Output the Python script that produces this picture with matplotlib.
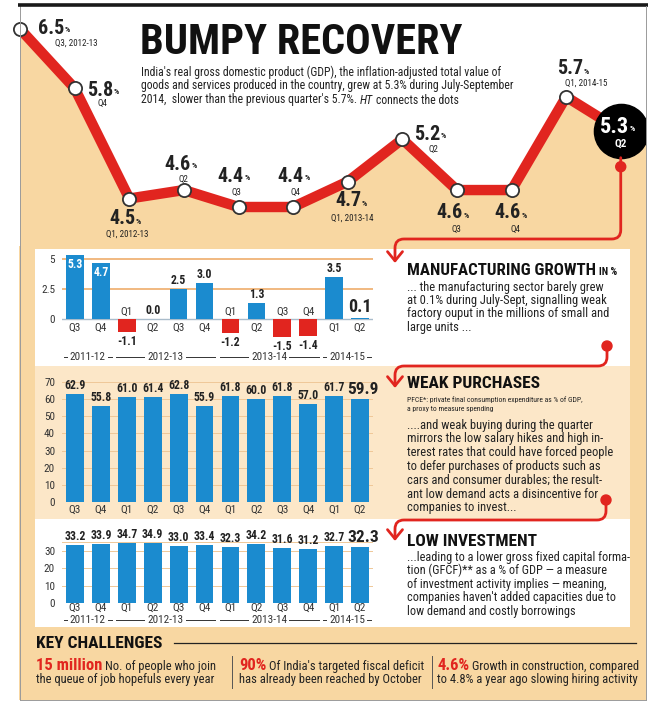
import numpy as np
import matplotlib
matplotlib.use('Agg')
import matplotlib.pyplot as plt
from matplotlib.patches import Rectangle, Circle, FancyArrowPatch
from matplotlib.path import Path
from matplotlib.transforms import blended_transform_factory
from matplotlib import font_manager as fm

# ---------------- data ----------------
gdp_labels = ['Q3, 2012-13', 'Q4', 'Q1, 2012-13', 'Q2', 'Q3', 'Q4',
              'Q1, 2013-14', 'Q2', 'Q3', 'Q4', 'Q1, 2014-15', 'Q2']
gdp_growth = [6.5, 5.8, 4.5, 4.6, 4.4, 4.4, 4.7, 5.2, 4.6, 4.6, 5.7, 5.3]

quarters = ['Q3', 'Q4', 'Q1', 'Q2', 'Q3', 'Q4', 'Q1', 'Q2', 'Q3', 'Q4', 'Q1', 'Q2']
fiscal_years = ['2011-12', '2012-13', '2013-14', '2014-15']
year_first_q = [0, 2, 6, 10]
year_last_q = [1, 5, 9, 11]

manufacturing = [5.3, 4.7, -1.1, 0.0, 2.5, 3.0, -1.2, 1.3, -1.5, -1.4, 3.5, 0.1]
pfce = [62.9, 55.8, 61.0, 61.4, 62.8, 55.9, 61.8, 60.0, 61.8, 57.0, 61.7, 59.9]
gfcf = [33.2, 33.9, 34.7, 34.9, 33.0, 33.4, 32.3, 34.2, 31.6, 31.2, 32.7, 32.3]

manuf_ticks = [0, 2.5, 5]
manuf_tick_labels = ['0', '2.5', '5']
pfce_ticks = [0, 10, 20, 30, 40, 50, 60, 70]
gfcf_ticks = [0, 10, 20, 30]


# ---------------- fonts ----------------
def has_font(name, weight='normal'):
    try:
        fm.findfont(fm.FontProperties(family=name, weight=weight), fallback_to_default=False)
        return True
    except Exception:
        return False


def pick(cands):
    for c in cands:
        if has_font(c):
            return c
    return 'DejaVu Sans'


BODY = pick(['Roboto Condensed', 'Archivo Narrow', 'PT Sans Narrow', 'Fira Sans Condensed',
             'IBM Plex Sans Condensed', 'Encode Sans Condensed', 'Barlow Semi Condensed',
             'Open Sans Condensed', 'Liberation Sans'])
plt.rcParams['font.family'] = [BODY, 'DejaVu Sans']

RED = '#e1251f'
BLUE = '#1b8bcf'
PEACH = '#f8d7a2'
LIGHT = '#fce7c8'
ORANGE = '#eea55e'
GRID = '#efc898'
DARK = '#222222'

W, H = 665, 707
fig = plt.figure(figsize=(W / 100, H / 100), dpi=100)
fig.patch.set_facecolor('white')


def box(l, t, w, h):
    return [l / W, 1 - (t + h) / H, w / W, h / H]


# ---------------- background ----------------
bg = fig.add_axes([0, 0, 1, 1], zorder=0)
bg.set_xlim(0, W)
bg.set_ylim(H, 0)
bg.axis('off')
bg.add_patch(Rectangle((19, 246), 627, 454, fc=PEACH, ec='none'))
bg.add_patch(Rectangle((35, 248), 595, 118, fc='white', ec='none'))
bg.add_patch(Rectangle((35, 366), 595, 153, fc=LIGHT, ec='none'))
bg.add_patch(Rectangle((35, 519), 595, 108, fc='white', ec='none'))

# ---------------- top GDP line chart ----------------
idx = np.arange(len(gdp_growth))
axt = fig.add_axes(box(19, 6, 627, 242), zorder=1)
axt.set_facecolor('none')
x_right = (646 - 19) / 54.7
axt.set_xlim(-0.02, x_right)
axt.set_ylim(6.5 - (248 - 29) / 84.76, 6.5 + (29 - 6) / 84.76)
axt.axis('off')
xs = np.r_[idx, x_right]
ys = np.r_[gdp_growth, gdp_growth[-1]]
axt.fill_between(xs, ys, 0, color=PEACH, lw=0, zorder=1)
axt.plot(idx, gdp_growth, color=RED, lw=7.5, solid_joinstyle='round',
         solid_capstyle='round', zorder=2, clip_on=False)
axt.plot(idx[:-1], gdp_growth[:-1], 'o', ms=9.5, mfc='white', mec='#333333',
         mew=1.3, zorder=3, clip_on=False)
axt.plot(idx[-1], gdp_growth[-1], 'o', ms=39, mfc='black', mec='black', zorder=4)
axt.annotate(f'{gdp_growth[-1]:.1f}', (idx[-1], gdp_growth[-1]), xytext=(8, 4),
             textcoords='offset pixels', ha='right', va='center', color='white',
             fontsize=16, fontweight='bold', zorder=5)
axt.annotate('%', (idx[-1], gdp_growth[-1]), xytext=(9, 2),
             textcoords='offset pixels', ha='left', va='center', color='white',
             fontsize=6, fontweight='bold', zorder=5)
axt.annotate(gdp_labels[-1], (idx[-1], gdp_growth[-1]), xytext=(0, -13),
             textcoords='offset pixels', ha='center', va='center', color='white',
             fontsize=8, fontweight='bold', zorder=5)

# foreground overlay in pixel coords
fg = fig.add_axes([0, 0, 1, 1], zorder=5)
fg.set_xlim(0, W)
fg.set_ylim(H, 0)
fg.axis('off')
fg.set_facecolor('none')
renderer = fig.canvas.get_renderer()

# borders
fg.plot([18, 648], [5, 5], color='#1a1a1a', lw=2.6, solid_capstyle='butt')
fg.plot([20, 20], [6, 700], color='#9a9a9a', lw=0.7, zorder=0)
fg.plot([646, 646], [6, 700], color='#9a9a9a', lw=0.7)
fg.plot([20, 646], [700, 700], color='#9a9a9a', lw=0.7)

# GDP point labels (pixel layout)
num_pos = [(64, 28), (113, 90), (135, 219), (191, 164), (244, 176), (304, 176),
           (361, 201), (440, 134), (463, 213), (521, 213), (583, 69)]
sub_pos = [(76, 43), (102, 103), (127, 234), (183, 179), (236, 192), (295, 192),
           (352, 218), (433, 149), (456, 229), (515, 229), (586, 83)]
for i in range(len(gdp_growth) - 1):
    nx, ny = num_pos[i]
    fg.text(nx, ny, f'{gdp_growth[i]:.1f}', ha='right', va='center', fontsize=14.5,
            fontweight='bold', color=DARK)
    fg.text(nx + 1, ny + 2, '%', ha='left', va='center', fontsize=6,
            fontweight='bold', color=DARK)
    sx, sy = sub_pos[i]
    fg.text(sx, sy, gdp_labels[i], ha='center', va='center', fontsize=6.5, color=DARK)

# title & subtitle
fg.text(140, 43, 'BUMPY RECOVERY', ha='left', va='center', fontsize=30.5,
        fontweight='bold', color='#111111')
sub_lines = ["India's real gross domestic product (GDP), the inflation-adjusted total value of",
             "goods and services produced in the country, grew at 5.3% during July-September"]
for k, line in enumerate(sub_lines):
    fg.text(141, 72 + 14 * k, line, ha='left', va='center', fontsize=8.5, color=DARK)


def inline(x, y, parts, **common):
    for txt, kw, gap in parts:
        t = fg.text(x, y, txt, **{**common, **kw})
        bb = t.get_window_extent(renderer)
        x += bb.width + gap
    return x


inline(141, 100, [("2014,  slower than the previous quarter's 5.7%.", {}, 3),
                  ('HT', {'style': 'italic'}, 3),
                  ('connects the dots', {}, 0)],
       ha='left', va='center', fontsize=8.5, color=DARK)


# ---------------- connectors ----------------
def connector(x0, y0, yh, x1, y1, r=9):
    verts = [(x0, y0), (x0, yh - r), (x0, yh), (x0 - r, yh),
             (x1 + r, yh), (x1, yh), (x1, yh + r), (x1, y1)]
    codes = [Path.MOVETO, Path.LINETO, Path.CURVE3, Path.CURVE3,
             Path.LINETO, Path.CURVE3, Path.CURVE3, Path.LINETO]
    arr = FancyArrowPatch(path=Path(verts, codes),
                          arrowstyle='->,head_length=0.55,head_width=0.45',
                          mutation_scale=12, color=RED, lw=2.0)
    fg.add_patch(arr)


circ_disp = axt.transData.transform((idx[-1], gdp_growth[-1]))
cx, cy = circ_disp[0], H - circ_disp[1]
connector(cx, cy + 27, 239, 395, 263)
fg.add_patch(Circle((cx, cy + 36), 5, color=RED, zorder=6))
connector(607, 346, 366, 395, 388)
fg.add_patch(Circle((607, 346), 5, color=RED, zorder=6))
connector(606, 500, 520, 395, 541)
fg.add_patch(Circle((606, 500), 5, color=RED, zorder=6))


# ---------------- bar chart helpers ----------------
def bar_axes(top, height, ylim):
    ax = fig.add_axes(box(62, top, 311, height), zorder=2)
    ax.set_facecolor('none')
    ax.set_xlim(-0.5, len(quarters) - 0.5)
    ax.set_ylim(*ylim)
    for s in ax.spines.values():
        s.set_visible(False)
    ax.set_xticks([])
    ax.tick_params(axis='y', length=0, pad=5, labelsize=8, labelcolor='#333333')
    return ax


def year_labels(ax, y_px, face):
    tr = blended_transform_factory(ax.transData, fg.transData)
    for name, a, b in zip(fiscal_years, year_first_q, year_last_q):
        fg.plot([a - 0.42, b + 0.42], [y_px, y_px], transform=tr, color='#333333',
                lw=0.7, zorder=2)
        fg.text((a + b) / 2, y_px, name, transform=tr, ha='center', va='center',
                fontsize=8, color='#333333', zorder=3,
                bbox=dict(fc=face, ec='none', pad=1.5))


def q_labels(ax, y_list):
    tr = blended_transform_factory(ax.transData, fg.transData)
    for i, q in enumerate(quarters):
        fg.text(i, y_list[i], q, transform=tr, ha='center', va='center',
                fontsize=8, color='#333333')


# ---------------- manufacturing ----------------
axm = bar_axes(250, 90, (-(340 - 319) / 12, (319 - 250) / 12))
mcolors = [RED if v < 0 else BLUE for v in manufacturing]
axm.bar(idx, manufacturing, width=0.68, color=mcolors, zorder=3)
for g in manuf_ticks[1:]:
    axm.axhline(g, color=ORANGE, lw=1.1, zorder=1)
axm.axhline(0, color='#a9bccb', lw=1.0, zorder=2)
axm.set_yticks(manuf_ticks)
axm.set_yticklabels(manuf_tick_labels)
for i, v in enumerate(manufacturing):
    last = i == len(manufacturing) - 1
    fs = 13 if last else 8.5
    if v >= 4:
        axm.annotate(f'{v:.1f}', (i, v), xytext=(0, -3), textcoords='offset pixels',
                     ha='center', va='top', fontsize=fs, fontweight='bold', color='white')
    elif v >= 0:
        axm.annotate(f'{v:.1f}', (i, v), xytext=(0, 2), textcoords='offset pixels',
                     ha='center', va='bottom', fontsize=fs, fontweight='bold', color=DARK)
    else:
        axm.annotate(f'{v:.1f}', (i, v), xytext=(0, -3), textcoords='offset pixels',
                     ha='center', va='top', fontsize=fs, fontweight='bold', color=DARK)
q_labels(axm, [312 if v < 0 else 328 for v in manufacturing])
year_labels(axm, 357, 'white')

# ---------------- PFCE ----------------
axp = bar_axes(372, 130, (0, (502 - 372) / 1.714))
axp.bar(idx, pfce, width=0.69, color=BLUE, zorder=3)
for g in pfce_ticks[1:]:
    axp.axhline(g, color=GRID, lw=0.7, zorder=1)
axp.set_yticks(pfce_ticks)
for i, v in enumerate(pfce):
    last = i == len(pfce) - 1
    axp.annotate(f'{v:.1f}', (i, v), xytext=(3 if last else 0, 2), textcoords='offset pixels',
                 ha='center', va='bottom', fontsize=12.5 if last else 8.5,
                 fontweight='bold', color=DARK)
axp.annotate('*', (idx[-1] + 0.66, pfce[-1]), xytext=(0, 16), textcoords='offset pixels',
             ha='left', va='center', fontsize=6, color='#666666')
q_labels(axp, [510] * len(quarters))

# ---------------- GFCF ----------------
axi = bar_axes(530, 73, (0, 73 / 1.733))
axi.bar(idx, gfcf, width=0.69, color=BLUE, zorder=3)
for g in gfcf_ticks[1:] + [35]:
    axi.axhline(g, color=GRID, lw=0.7, zorder=1)
axi.set_yticks(gfcf_ticks)
for i, v in enumerate(gfcf):
    last = i == len(gfcf) - 1
    axi.annotate(f'{v:.1f}', (i, v), xytext=(3 if last else 0, 2), textcoords='offset pixels',
                 ha='center', va='bottom', fontsize=12.5 if last else 8.5,
                 fontweight='bold', color=DARK)
axi.annotate('**', (idx[-1] + 0.66, gfcf[-1]), xytext=(0, 16), textcoords='offset pixels',
             ha='left', va='center', fontsize=6, color='#666666')
q_labels(axi, [608] * len(quarters))
year_labels(axi, 620, 'white')

# ---------------- side texts ----------------
TX = 407
inline(TX, 275, [('MANUFACTURING GROWTH', {'fontsize': 12.2}, 3),
                 ('IN %', {'fontsize': 7.5}, 0)],
       ha='left', va='baseline', fontweight='bold', color='#111111')
manuf_text = ['... the manufacturing sector barely grew',
              'at 0.1% during July-Sept, signalling weak',
              'factory ouput in the millions of small and',
              'large units ...']
for k, line in enumerate(manuf_text):
    fg.text(TX, 287 + 13.5 * k, line, ha='left', va='center', fontsize=9, color=DARK)

fg.text(TX, 383, 'WEAK PURCHASES', ha='left', va='center', fontsize=12.5,
        fontweight='bold', color='#111111')
fg.text(TX, 400, 'PFCE*: private final consumption expenditure as % of GDP,',
        ha='left', va='center', fontsize=5.5, color=DARK)
fg.text(TX, 409, 'a proxy to measure spending', ha='left', va='center',
        fontsize=5.5, color=DARK)
weak_text = ['....and weak buying during the quarter',
             'mirrors the low salary hikes and high in-',
             'terest rates that could have forced people',
             'to defer purchases of products such as',
             'cars and consumer durables; the result-',
             'ant low demand acts a disincentive for',
             'companies to invest...']
for k, line in enumerate(weak_text):
    fg.text(TX, 425 + 13.8 * k, line, ha='left', va='center', fontsize=9, color=DARK)

fg.text(TX, 541, 'LOW INVESTMENT', ha='left', va='center', fontsize=12.5,
        fontweight='bold', color='#111111')
inv_text = ['...leading to a lower gross fixed capital forma-',
            'tion (GFCF)** as a % of GDP \u2014 a measure',
            'of investment activity implies \u2014 meaning,',
            "companies haven't added capacities due to",
            'low demand and costly borrowings']
for k, line in enumerate(inv_text):
    fg.text(TX, 557 + 13.6 * k, line, ha='left', va='center', fontsize=8.8, color=DARK)

# ---------------- key challenges ----------------
xe = inline(36, 644, [('KEY CHALLENGES', {}, 0)], ha='left', va='center',
            fontsize=12.5, fontweight='bold', color='#111111')
fg.plot([xe + 12, 636], [643, 643], color='#222222', lw=0.9)

cols = [(36, '15 million', 'No. of people who join', 'the queue of job hopefuls every year'),
        (239, '90%', "Of India's targeted fiscal deficit", 'has already been reached by October'),
        (437, '4.6%', 'Growth in construction, compared', 'to 4.8% a year ago slowing hiring activity')]
for x0, big, l1, l2 in cols:
    inline(x0, 670, [(big, {'fontsize': 12, 'fontweight': 'bold', 'color': RED}, 3),
                     (l1, {'fontsize': 9, 'color': DARK}, 0)],
           ha='left', va='baseline')
    fg.text(x0, 680, l2, ha='left', va='center', fontsize=9, color=DARK)
for xs_ in [232, 432]:
    fg.plot([xs_, xs_], [656, 688], color='#555555', lw=0.7)

fig.savefig('out.png', dpi=100, facecolor='white')
